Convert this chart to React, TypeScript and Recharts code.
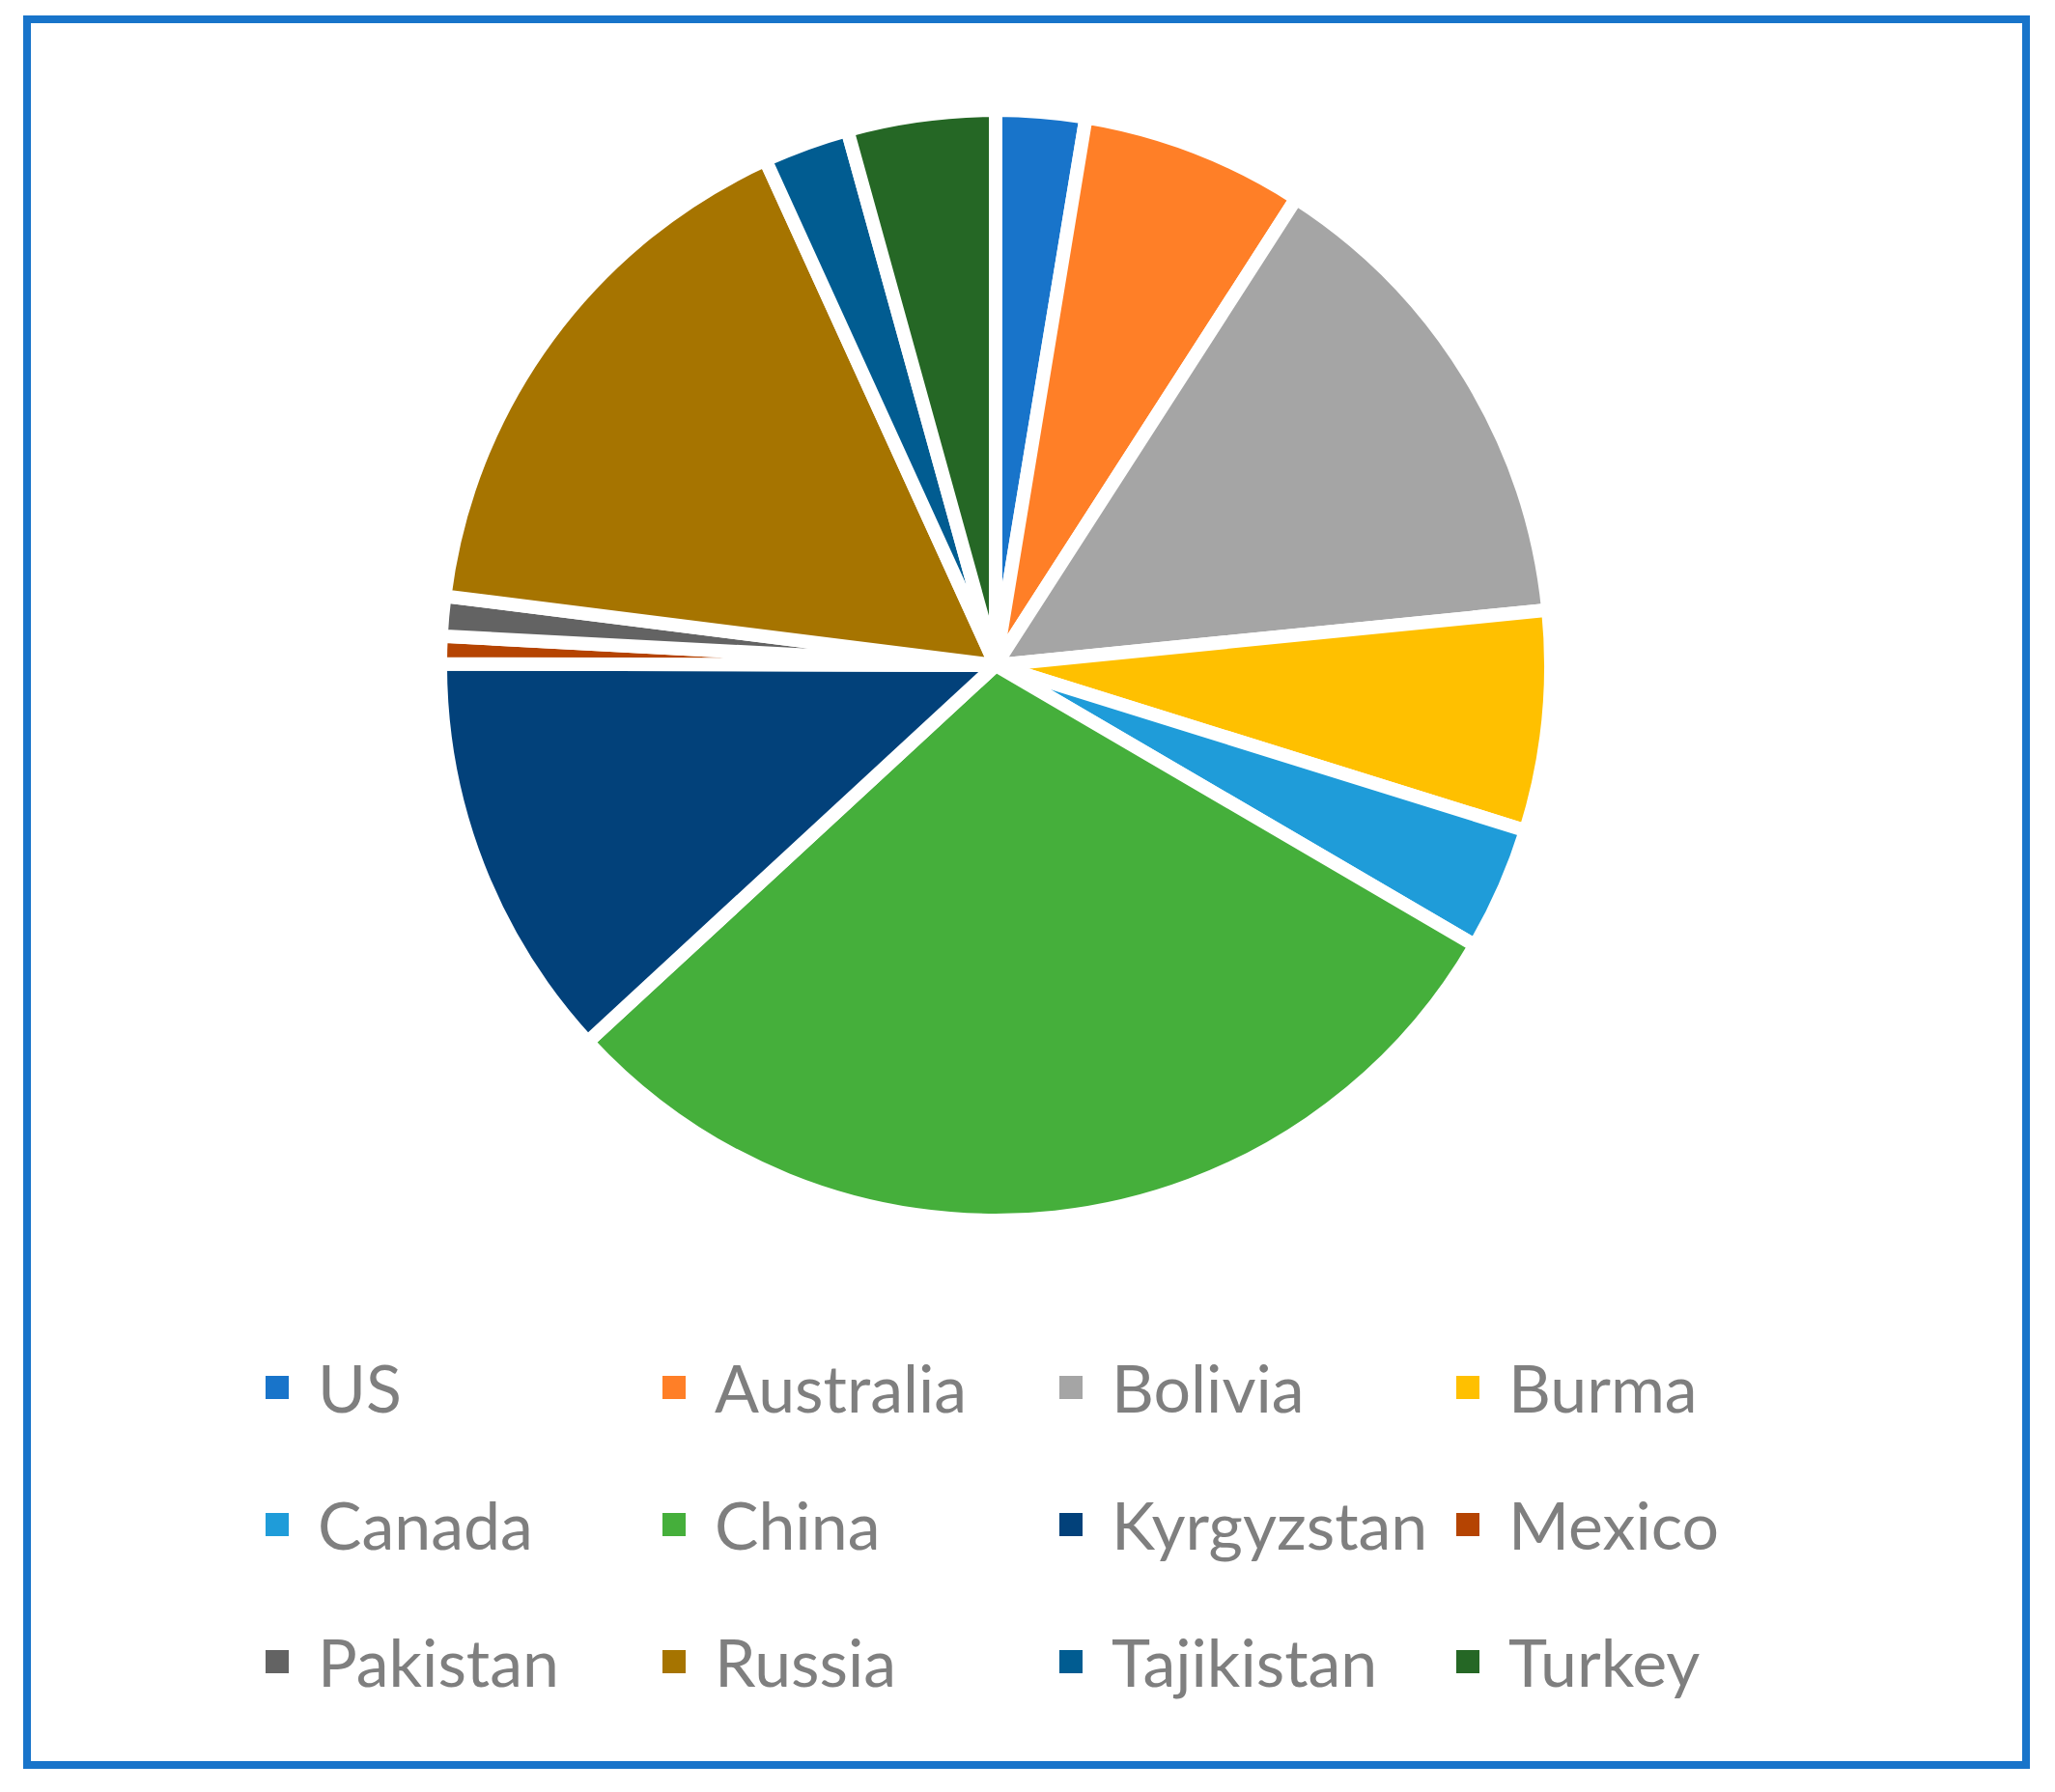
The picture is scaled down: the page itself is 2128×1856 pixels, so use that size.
import React from "react";
import { Cell, Legend, Pie, PieChart } from "recharts";

const countries = [
  "US",
  "Australia",
  "Bolivia",
  "Burma",
  "Canada",
  "China",
  "Kyrgyzstan",
  "Mexico",
  "Pakistan",
  "Russia",
  "Tajikistan",
  "Turkey",
];

const shares = [2.6, 6.5, 14.3, 6.4, 3.6, 29.7, 11.9, 0.8, 1.15, 16.2, 2.5, 4.3];

const colors = [
  "#1874CA",
  "#FF7F27",
  "#A5A5A5",
  "#FFC000",
  "#1F9CD9",
  "#45AF3B",
  "#02417A",
  "#B54402",
  "#636363",
  "#A67400",
  "#015C91",
  "#256725",
];

const data = countries.map((name, i) => ({ name, value: shares[i] }));

const LegendGrid = () => (
  <div style={{ position: "relative", width: 2128, height: 420 }}>
    {countries.map((name, i) => {
      const col = i % 4;
      const row = Math.floor(i / 4);
      return (
        <div
          key={name}
          style={{
            position: "absolute",
            left: 275 + col * 411,
            top: row * 142,
            height: 60,
            display: "flex",
            alignItems: "center",
            whiteSpace: "nowrap",
          }}
        >
          <span
            style={{
              width: 24,
              height: 24,
              background: colors[i],
              display: "inline-block",
              marginRight: 30,
            }}
          />
          <span
            style={{
              fontFamily: "Lato, sans-serif",
              fontSize: 68,
              color: "#7F7F7F",
              lineHeight: "60px",
            }}
          >
            {name}
          </span>
        </div>
      );
    })}
  </div>
);

export default function App() {
  return (
    <div
      style={{
        position: "absolute",
        left: 0,
        top: 0,
        width: 2128,
        height: 1856,
        background: "#fff",
      }}
    >
      <div
        style={{
          position: "absolute",
          left: 24,
          top: 16,
          width: 2078,
          height: 1816,
          border: "8px solid #1874CA",
          boxSizing: "border-box",
        }}
      />
      <PieChart width={2128} height={1856} style={{ position: "absolute", left: 0, top: 0 }}>
        <Pie
          data={data}
          dataKey="value"
          nameKey="name"
          cx={1026}
          cy={684}
          outerRadius={575}
          startAngle={90}
          endAngle={-270}
          stroke="#fff"
          strokeWidth={14}
          isAnimationActive={false}
        >
          {data.map((d, i) => (
            <Cell key={d.name} fill={colors[i]} />
          ))}
        </Pie>
        <Legend
          content={<LegendGrid />}
          wrapperStyle={{ left: 0, top: 1407, width: 2128 }}
        />
      </PieChart>
    </div>
  );
}
